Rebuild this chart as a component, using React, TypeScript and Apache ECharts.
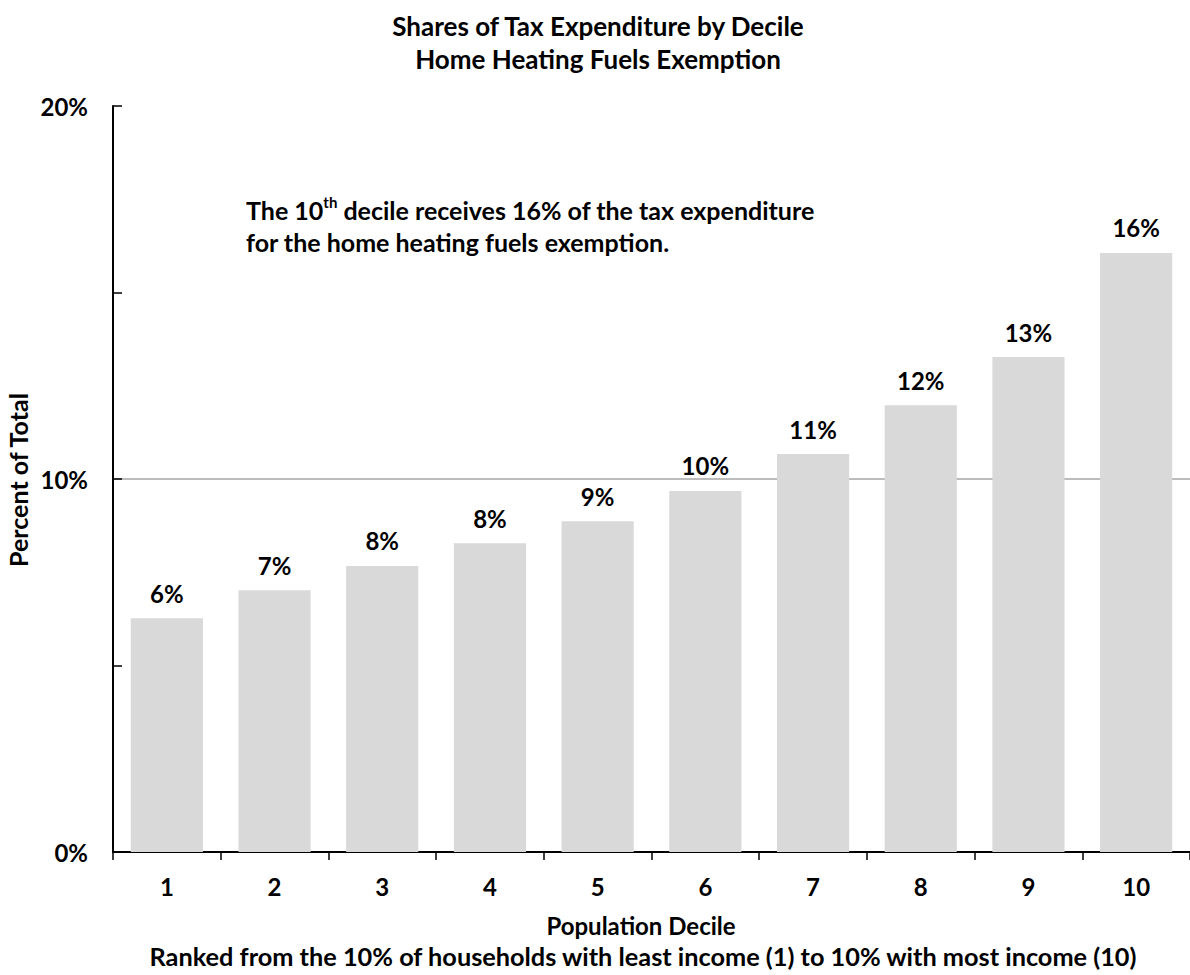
import React, { useEffect, useRef } from "react";
import * as echarts from "echarts";

const categories = ["1", "2", "3", "4", "5", "6", "7", "8", "9", "10"];
const shares = [6.27, 7.02, 7.67, 8.28, 8.87, 9.68, 10.67, 11.98, 13.27, 16.06];
const titleLines = ["Shares of Tax Expenditure by Decile", "Home Heating Fuels Exemption"];
const xName = "Population Decile";
const footer = "Ranked from the 10% of households with least income (1) to 10% with most income (10)";
const yName = "Percent of Total";

const FONT = "Lato, 'Open Sans', sans-serif";

export default function App() {
  const ref = useRef<HTMLDivElement>(null);
  useEffect(() => {
    if (!ref.current) return;
    const chart = echarts.init(ref.current, undefined, { renderer: "svg" });
    chart.setOption({
      animation: false,
      backgroundColor: "#ffffff",
      textStyle: { fontFamily: FONT },
      grid: { left: 113, top: 106, width: 1082, bottom: 123, containLabel: false },
      xAxis: [
        {
          type: "category",
          data: categories,
          axisLine: { show: true, lineStyle: { color: "#000", width: 2 } },
          axisTick: { show: true, length: 8, inside: false, lineStyle: { color: "#000", width: 1.5 } },
          axisLabel: { color: "#000", fontWeight: "bold", fontSize: 24, fontFamily: FONT, margin: 22 },
        },
        {
          type: "category",
          data: categories,
          position: "top",
          axisLine: { show: true, lineStyle: { color: "#000", width: 2 } },
          axisTick: { show: false },
          axisLabel: { show: false },
        },
      ],
      yAxis: [
        {
          type: "value",
          min: 0,
          max: 20,
          interval: 5,
          axisLine: { show: true, lineStyle: { color: "#000", width: 2 } },
          axisTick: { show: true, inside: true, length: 9, lineStyle: { color: "#000", width: 1.5 } },
          splitLine: { show: false },
          axisLabel: {
            color: "#000",
            fontWeight: "bold",
            fontSize: 24,
            fontFamily: FONT,
            margin: 25,
            formatter: (v: number) => (v % 10 === 0 ? v + "%" : ""),
          },
        },
        {
          type: "value",
          min: 0,
          max: 20,
          interval: 10,
          axisLine: { show: false },
          axisTick: { show: false },
          axisLabel: { show: false },
          splitLine: { show: true, lineStyle: { color: ["transparent", "#a6a6a6", "transparent"], width: 1.5 } },
        },
      ],
      series: [
        {
          type: "bar",
          data: shares,
          barCategoryGap: "33%",
          itemStyle: { color: "#d9d9d9" },
          label: {
            show: true,
            position: "top",
            distance: 13,
            color: "#000",
            fontWeight: "bold",
            fontSize: 24,
            fontFamily: FONT,
            formatter: (p: any) => Math.round(p.value) + "%",
          },
        },
      ],
      graphic: [
        {
          type: "text",
          x: 598,
          y: 26,
          style: {
            text: titleLines[0],
            fill: "#000",
            font: `bold 26px ${FONT}`,
            align: "center",
            verticalAlign: "middle",
          },
        },
        {
          type: "text",
          x: 598,
          y: 59,
          style: {
            text: titleLines[1],
            fill: "#000",
            font: `bold 26px ${FONT}`,
            align: "center",
            verticalAlign: "middle",
          },
        },
        {
          type: "text",
          x: 18,
          y: 480,
          rotation: Math.PI / 2,
          style: {
            text: yName,
            fill: "#000",
            font: `bold 25px ${FONT}`,
            align: "center",
            verticalAlign: "middle",
          },
        },
        {
          type: "text",
          x: 641,
          y: 925,
          style: {
            text: xName,
            fill: "#000",
            font: `bold 24px ${FONT}`,
            align: "center",
            verticalAlign: "middle",
          },
        },
        {
          type: "text",
          x: 643,
          y: 956,
          style: {
            text: footer,
            fill: "#000",
            font: `bold 25.3px ${FONT}`,
            align: "center",
            verticalAlign: "middle",
          },
        },
        {
          type: "text",
          x: 246,
          y: 194,
          style: {
            text: "{n|The 10}{s|th}{n| decile receives 16% of the tax expenditure}\n{n|for the home heating fuels exemption.}",
            fill: "#000",
            font: `bold 25px ${FONT}`,
            lineHeight: 32,
            rich: {
              n: { fontSize: 25, fontWeight: "bold", fontFamily: FONT, fill: "#000", lineHeight: 32 },
              s: { fontSize: 15, fontWeight: "bold", fontFamily: FONT, fill: "#000", verticalAlign: "top", lineHeight: 32, padding: [0, 0, 12, 0] },
            },
          },
        },
      ],
    });
    return () => chart.dispose();
  }, []);
  return (
    <div
      ref={ref}
      style={{ position: "absolute", left: 0, top: 0, width: 1190, height: 975, overflow: "hidden" }}
    />
  );
}
